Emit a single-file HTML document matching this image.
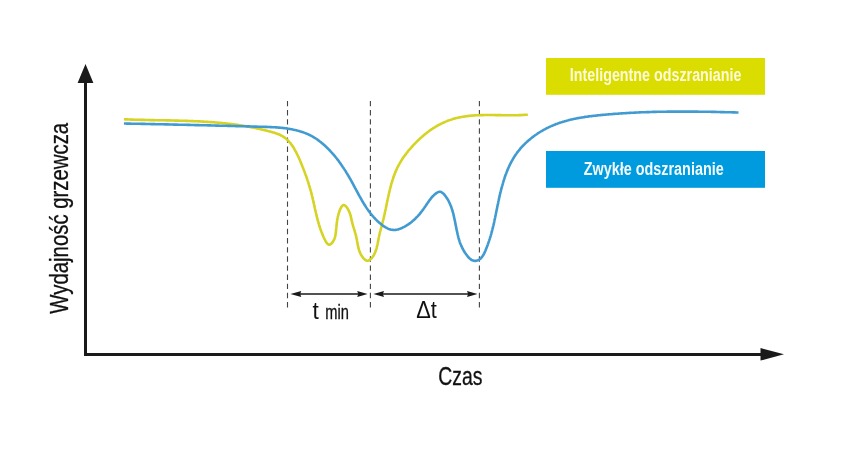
<!DOCTYPE html>
<html><head><meta charset="utf-8"><style>
html,body{margin:0;padding:0;background:#fff;}
body{width:844px;height:457px;overflow:hidden;}
svg{display:block;will-change:transform;}
text{font-family:"Liberation Sans",sans-serif;}
</style></head><body>
<svg width="844" height="457" viewBox="0 0 844 457">
<rect x="0" y="0" width="844" height="457" fill="#fff"/>
<!-- dashed lines -->
<g stroke="#444" stroke-width="1.1" stroke-dasharray="5.4 3.74">
<line x1="287.5" y1="100.9" x2="287.5" y2="308"/>
<line x1="370.4" y1="100.9" x2="370.4" y2="308"/>
<line x1="479.4" y1="100.9" x2="479.4" y2="308"/>
</g>
<!-- curves -->
<path d="M123.9,119.3 L124.6,119.3 L125.3,119.4 L126.0,119.4 L126.7,119.4 L127.4,119.4 L128.1,119.5 L128.8,119.5 L129.5,119.5 L130.2,119.5 L131.0,119.6 L131.7,119.6 L132.4,119.6 L133.1,119.6 L133.8,119.7 L134.5,119.7 L135.2,119.7 L135.9,119.7 L136.6,119.7 L137.3,119.8 L138.0,119.8 L138.7,119.8 L139.4,119.8 L140.1,119.8 L140.9,119.9 L141.6,119.9 L142.3,119.9 L143.0,119.9 L143.7,119.9 L144.4,119.9 L145.1,120.0 L145.8,120.0 L146.5,120.0 L147.2,120.0 L148.0,120.0 L148.7,120.0 L149.4,120.0 L150.1,120.1 L150.8,120.1 L151.5,120.1 L152.2,120.1 L152.9,120.1 L153.7,120.1 L154.4,120.1 L155.1,120.2 L155.8,120.2 L156.5,120.2 L157.2,120.2 L157.9,120.2 L158.6,120.2 L159.4,120.2 L160.1,120.3 L160.8,120.3 L161.5,120.3 L162.2,120.3 L162.9,120.3 L163.6,120.3 L164.3,120.3 L165.1,120.3 L165.8,120.4 L166.5,120.4 L167.2,120.4 L167.9,120.4 L168.6,120.4 L169.3,120.4 L170.1,120.4 L170.8,120.5 L171.5,120.5 L172.2,120.5 L172.9,120.5 L173.6,120.5 L174.3,120.5 L175.1,120.6 L175.8,120.6 L176.5,120.6 L177.2,120.6 L177.9,120.6 L178.6,120.6 L179.3,120.7 L180.1,120.7 L180.8,120.7 L181.5,120.7 L182.2,120.7 L182.9,120.8 L183.6,120.8 L184.3,120.8 L185.1,120.8 L185.8,120.9 L186.5,120.9 L187.2,120.9 L187.9,120.9 L188.6,121.0 L189.3,121.0 L190.1,121.0 L190.8,121.0 L191.5,121.1 L192.2,121.1 L192.9,121.1 L193.6,121.1 L194.3,121.2 L195.0,121.2 L195.8,121.2 L196.5,121.3 L197.2,121.3 L197.9,121.3 L198.6,121.4 L199.3,121.4 L200.0,121.4 L200.7,121.5 L201.5,121.5 L202.2,121.6 L202.9,121.6 L203.6,121.6 L204.3,121.7 L205.0,121.7 L205.7,121.8 L206.4,121.8 L207.1,121.9 L207.9,121.9 L208.6,122.0 L209.3,122.0 L210.0,122.0 L210.7,122.1 L211.4,122.1 L212.1,122.2 L212.8,122.3 L213.5,122.3 L214.2,122.4 L214.9,122.4 L215.6,122.5 L216.4,122.5 L217.1,122.6 L217.8,122.7 L218.5,122.7 L219.2,122.8 L219.9,122.8 L220.6,122.9 L221.3,123.0 L222.0,123.0 L222.7,123.1 L223.4,123.2 L224.1,123.3 L224.8,123.3 L225.5,123.4 L226.2,123.5 L226.9,123.6 L227.6,123.6 L228.3,123.7 L229.0,123.8 L229.7,123.9 L230.4,124.0 L231.1,124.1 L231.8,124.1 L232.5,124.2 L233.2,124.3 L233.9,124.4 L234.6,124.5 L235.3,124.6 L236.0,124.7 L236.7,124.8 L237.4,124.9 L238.1,125.0 L238.8,125.1 L239.5,125.2 L240.2,125.3 L240.9,125.4 L241.6,125.5 L242.3,125.6 L243.0,125.7 L243.7,125.9 L244.4,126.0 L245.1,126.1 L245.8,126.2 L246.5,126.3 L247.2,126.5 L247.9,126.6 L248.5,126.7 L249.2,126.8 L249.9,127.0 L250.6,127.1 L251.3,127.2 L252.0,127.4 L252.7,127.5 L253.4,127.6 L254.1,127.8 L254.8,127.9 L255.5,128.1 L256.2,128.2 L256.9,128.4 L257.6,128.5 L258.2,128.7 L258.9,128.8 L259.6,129.0 L260.3,129.1 L261.0,129.3 L261.7,129.5 L262.4,129.6 L263.1,129.8 L263.8,130.0 L264.5,130.1 L265.2,130.3 L265.9,130.5 L266.6,130.7 L267.3,130.8 L268.0,131.0 L268.8,131.2 L269.5,131.4 L270.2,131.6 L270.9,131.8 L271.6,132.0 L272.3,132.2 L273.0,132.4 L273.7,132.6 L274.4,132.8 L275.1,133.0 L275.8,133.3 L276.5,133.5 L277.2,133.7 L277.9,134.0 L278.5,134.3 L279.2,134.5 L279.9,134.8 L280.5,135.1 L281.1,135.5 L281.7,135.8 L282.4,136.1 L283.0,136.5 L283.5,136.9 L284.1,137.2 L284.7,137.6 L285.2,138.0 L285.8,138.5 L286.3,138.9 L286.8,139.4 L287.3,139.8 L287.8,140.3 L288.3,140.8 L288.8,141.3 L289.2,141.8 L289.7,142.3 L290.1,142.8 L290.6,143.4 L291.0,143.9 L291.4,144.5 L291.8,145.1 L292.2,145.6 L292.6,146.2 L293.0,146.8 L293.4,147.4 L293.8,148.0 L294.1,148.6 L294.5,149.2 L294.8,149.8 L295.2,150.5 L295.5,151.1 L295.9,151.7 L296.2,152.4 L296.5,153.0 L296.8,153.7 L297.2,154.3 L297.5,155.0 L297.8,155.6 L298.1,156.3 L298.4,156.9 L298.7,157.6 L299.0,158.3 L299.3,158.9 L299.6,159.6 L299.9,160.3 L300.2,160.9 L300.4,161.6 L300.7,162.3 L301.0,162.9 L301.3,163.6 L301.6,164.2 L301.8,164.9 L302.1,165.6 L302.4,166.2 L302.6,166.9 L302.9,167.6 L303.2,168.2 L303.4,168.9 L303.7,169.6 L303.9,170.2 L304.2,170.9 L304.5,171.6 L304.7,172.2 L305.0,172.9 L305.2,173.6 L305.4,174.2 L305.7,174.9 L305.9,175.6 L306.2,176.2 L306.4,176.9 L306.6,177.6 L306.9,178.2 L307.1,178.9 L307.3,179.6 L307.5,180.2 L307.8,180.9 L308.0,181.6 L308.2,182.2 L308.4,182.9 L308.6,183.6 L308.8,184.3 L309.0,184.9 L309.2,185.6 L309.4,186.3 L309.6,187.0 L309.8,187.6 L310.0,188.3 L310.2,189.0 L310.4,189.7 L310.6,190.4 L310.8,191.0 L311.0,191.7 L311.2,192.4 L311.3,193.1 L311.5,193.8 L311.7,194.5 L311.9,195.1 L312.0,195.8 L312.2,196.5 L312.4,197.2 L312.5,197.9 L312.7,198.6 L312.9,199.3 L313.0,200.0 L313.2,200.7 L313.3,201.4 L313.5,202.1 L313.6,202.7 L313.8,203.4 L314.0,204.1 L314.1,204.8 L314.3,205.5 L314.4,206.2 L314.6,206.9 L314.7,207.6 L314.9,208.3 L315.0,209.0 L315.2,209.7 L315.3,210.4 L315.5,211.1 L315.7,211.8 L315.8,212.5 L316.0,213.2 L316.2,213.9 L316.3,214.6 L316.5,215.3 L316.7,216.0 L316.8,216.7 L317.0,217.4 L317.2,218.0 L317.3,218.7 L317.5,219.4 L317.7,220.1 L317.9,220.8 L318.1,221.5 L318.3,222.2 L318.5,222.9 L318.7,223.6 L318.9,224.3 L319.1,224.9 L319.3,225.6 L319.5,226.3 L319.7,227.0 L320.0,227.7 L320.2,228.4 L320.4,229.0 L320.7,229.7 L320.9,230.4 L321.1,231.1 L321.4,231.8 L321.7,232.4 L321.9,233.1 L322.2,233.8 L322.5,234.5 L322.7,235.1 L323.0,235.8 L323.3,236.5 L323.6,237.1 L323.9,237.8 L324.2,238.4 L324.6,239.1 L324.9,239.8 L325.2,240.4 L325.6,241.1 L325.9,241.7 L326.3,242.3 L326.6,242.8 L327.0,243.3 L327.4,243.7 L327.8,244.1 L328.2,244.4 L328.7,244.6 L329.1,244.6 L329.6,244.6 L330.1,244.5 L330.6,244.2 L331.1,243.9 L331.6,243.4 L332.1,242.8 L332.6,242.2 L333.0,241.5 L333.5,240.8 L333.8,240.1 L334.2,239.4 L334.5,238.6 L334.7,237.9 L335.0,237.1 L335.2,236.4 L335.3,235.6 L335.5,234.9 L335.6,234.2 L335.7,233.4 L335.8,232.7 L335.9,232.0 L336.0,231.3 L336.0,230.5 L336.1,229.8 L336.2,229.1 L336.2,228.4 L336.3,227.8 L336.4,227.1 L336.4,226.4 L336.5,225.7 L336.6,225.0 L336.7,224.3 L336.7,223.7 L336.8,223.0 L336.9,222.3 L337.0,221.6 L337.1,220.9 L337.2,220.3 L337.3,219.6 L337.4,218.9 L337.5,218.2 L337.7,217.5 L337.8,216.8 L338.0,216.1 L338.2,215.3 L338.4,214.6 L338.6,213.9 L338.8,213.1 L339.1,212.4 L339.3,211.6 L339.6,210.8 L339.9,210.1 L340.2,209.3 L340.5,208.5 L340.9,207.8 L341.2,207.2 L341.6,206.6 L342.0,206.1 L342.4,205.7 L342.9,205.3 L343.3,205.1 L343.8,205.1 L344.2,205.2 L344.7,205.4 L345.2,205.7 L345.7,206.1 L346.1,206.6 L346.6,207.1 L347.1,207.7 L347.5,208.4 L347.9,209.1 L348.3,209.8 L348.7,210.5 L349.0,211.2 L349.3,211.9 L349.6,212.6 L349.8,213.3 L350.1,214.0 L350.3,214.7 L350.5,215.4 L350.7,216.2 L350.9,216.9 L351.0,217.6 L351.2,218.3 L351.4,219.0 L351.5,219.7 L351.7,220.4 L351.8,221.1 L352.0,221.8 L352.2,222.5 L352.3,223.2 L352.5,223.8 L352.7,224.5 L352.9,225.2 L353.1,225.9 L353.3,226.5 L353.5,227.2 L353.7,227.8 L353.9,228.5 L354.1,229.2 L354.3,229.8 L354.5,230.5 L354.7,231.1 L354.9,231.8 L355.1,232.5 L355.3,233.2 L355.5,233.8 L355.7,234.5 L355.9,235.2 L356.0,235.9 L356.2,236.6 L356.3,237.3 L356.5,238.0 L356.6,238.7 L356.8,239.4 L356.9,240.1 L357.0,240.8 L357.2,241.5 L357.3,242.3 L357.4,243.0 L357.5,243.7 L357.7,244.4 L357.8,245.2 L358.0,245.9 L358.1,246.6 L358.3,247.3 L358.5,248.0 L358.6,248.7 L358.8,249.4 L359.1,250.1 L359.3,250.8 L359.5,251.5 L359.8,252.2 L360.1,252.8 L360.4,253.5 L360.7,254.1 L361.0,254.8 L361.4,255.4 L361.8,256.0 L362.2,256.6 L362.6,257.2 L363.1,257.8 L363.6,258.4 L364.1,258.9 L364.6,259.4 L365.2,259.8 L365.7,260.2 L366.3,260.5 L366.9,260.7 L367.4,260.7 L368.0,260.7 L368.6,260.6 L369.1,260.3 L369.7,260.0 L370.2,259.6 L370.7,259.1 L371.2,258.6 L371.7,258.1 L372.2,257.5 L372.6,257.0 L373.0,256.4 L373.4,255.8 L373.8,255.2 L374.1,254.5 L374.4,253.9 L374.7,253.3 L375.0,252.6 L375.3,252.0 L375.6,251.3 L375.8,250.6 L376.0,249.9 L376.3,249.2 L376.5,248.5 L376.7,247.8 L376.8,247.1 L377.0,246.4 L377.2,245.7 L377.4,245.0 L377.5,244.3 L377.7,243.5 L377.8,242.8 L377.9,242.1 L378.1,241.4 L378.2,240.6 L378.4,239.9 L378.5,239.2 L378.6,238.5 L378.8,237.8 L378.9,237.0 L379.1,236.3 L379.2,235.6 L379.4,234.9 L379.5,234.2 L379.7,233.5 L379.8,232.8 L380.0,232.2 L380.2,231.5 L380.4,230.8 L380.5,230.1 L380.7,229.4 L380.9,228.8 L381.1,228.1 L381.2,227.4 L381.4,226.8 L381.6,226.1 L381.8,225.4 L382.0,224.7 L382.1,224.1 L382.3,223.4 L382.5,222.7 L382.7,222.1 L382.8,221.4 L383.0,220.7 L383.2,220.0 L383.4,219.3 L383.5,218.7 L383.7,218.0 L383.8,217.3 L384.0,216.6 L384.2,215.9 L384.3,215.2 L384.5,214.5 L384.6,213.8 L384.8,213.2 L384.9,212.5 L385.1,211.8 L385.2,211.1 L385.4,210.4 L385.5,209.7 L385.7,209.0 L385.8,208.3 L386.0,207.6 L386.1,206.9 L386.3,206.2 L386.4,205.5 L386.5,204.8 L386.7,204.0 L386.8,203.3 L387.0,202.6 L387.1,201.9 L387.3,201.2 L387.4,200.5 L387.6,199.8 L387.7,199.1 L387.9,198.4 L388.0,197.7 L388.2,197.0 L388.3,196.3 L388.5,195.6 L388.6,194.9 L388.8,194.2 L389.0,193.5 L389.1,192.8 L389.3,192.1 L389.5,191.4 L389.6,190.7 L389.8,190.0 L390.0,189.3 L390.1,188.6 L390.3,187.9 L390.5,187.2 L390.7,186.5 L390.9,185.8 L391.1,185.1 L391.2,184.4 L391.4,183.7 L391.6,183.1 L391.8,182.4 L392.0,181.7 L392.3,181.0 L392.5,180.3 L392.7,179.7 L392.9,179.0 L393.1,178.3 L393.4,177.6 L393.6,177.0 L393.8,176.3 L394.1,175.6 L394.3,175.0 L394.6,174.3 L394.8,173.7 L395.1,173.0 L395.3,172.3 L395.6,171.7 L395.9,171.0 L396.2,170.4 L396.4,169.8 L396.7,169.1 L397.0,168.5 L397.3,167.8 L397.6,167.2 L397.9,166.6 L398.3,166.0 L398.6,165.3 L398.9,164.7 L399.3,164.1 L399.6,163.5 L399.9,162.9 L400.3,162.3 L400.7,161.7 L401.0,161.1 L401.4,160.5 L401.8,159.9 L402.2,159.3 L402.5,158.7 L402.9,158.1 L403.3,157.6 L403.7,157.0 L404.1,156.4 L404.5,155.8 L405.0,155.3 L405.4,154.7 L405.8,154.1 L406.2,153.6 L406.7,153.0 L407.1,152.5 L407.6,151.9 L408.0,151.3 L408.4,150.8 L408.9,150.2 L409.4,149.7 L409.8,149.2 L410.3,148.6 L410.8,148.1 L411.2,147.5 L411.7,147.0 L412.2,146.5 L412.7,145.9 L413.1,145.4 L413.6,144.9 L414.1,144.4 L414.6,143.8 L415.1,143.3 L415.6,142.8 L416.1,142.3 L416.6,141.8 L417.1,141.3 L417.6,140.8 L418.2,140.3 L418.7,139.8 L419.2,139.3 L419.7,138.8 L420.3,138.3 L420.8,137.8 L421.3,137.4 L421.9,136.9 L422.4,136.4 L423.0,135.9 L423.5,135.5 L424.1,135.0 L424.6,134.6 L425.2,134.1 L425.7,133.7 L426.3,133.2 L426.9,132.8 L427.4,132.3 L428.0,131.9 L428.6,131.5 L429.1,131.1 L429.7,130.6 L430.3,130.2 L430.9,129.8 L431.5,129.4 L432.1,129.0 L432.7,128.6 L433.3,128.2 L433.9,127.9 L434.5,127.5 L435.1,127.1 L435.7,126.7 L436.3,126.4 L436.9,126.0 L437.5,125.7 L438.1,125.3 L438.7,125.0 L439.4,124.7 L440.0,124.3 L440.6,124.0 L441.2,123.7 L441.9,123.4 L442.5,123.1 L443.1,122.8 L443.8,122.5 L444.4,122.2 L445.1,121.9 L445.7,121.6 L446.3,121.4 L447.0,121.1 L447.6,120.8 L448.3,120.6 L449.0,120.4 L449.6,120.1 L450.3,119.9 L450.9,119.7 L451.6,119.4 L452.3,119.2 L452.9,119.0 L453.6,118.8 L454.3,118.6 L455.0,118.5 L455.6,118.3 L456.3,118.1 L457.0,117.9 L457.7,117.8 L458.4,117.6 L459.0,117.5 L459.7,117.3 L460.4,117.2 L461.1,117.1 L461.8,116.9 L462.5,116.8 L463.2,116.7 L463.9,116.6 L464.6,116.5 L465.3,116.4 L466.0,116.3 L466.7,116.2 L467.4,116.1 L468.1,116.0 L468.8,115.9 L469.5,115.9 L470.2,115.8 L470.9,115.7 L471.6,115.6 L472.3,115.6 L473.0,115.5 L473.8,115.5 L474.5,115.4 L475.2,115.4 L475.9,115.3 L476.6,115.3 L477.3,115.3 L478.0,115.2 L478.8,115.2 L479.5,115.2 L480.2,115.1 L480.9,115.1 L481.6,115.1 L482.4,115.1 L483.1,115.1 L483.8,115.0 L484.5,115.0 L485.2,115.0 L486.0,115.0 L486.7,115.0 L487.4,115.0 L488.1,115.0 L488.9,115.0 L489.6,115.0 L490.3,115.0 L491.0,115.0 L491.8,115.0 L492.5,115.0 L493.2,115.0 L493.9,115.0 L494.7,115.0 L495.4,115.1 L496.1,115.1 L496.8,115.1 L497.5,115.1 L498.3,115.1 L499.0,115.1 L499.7,115.1 L500.4,115.1 L501.2,115.1 L501.9,115.2 L502.6,115.2 L503.3,115.2 L504.0,115.2 L504.7,115.2 L505.5,115.2 L506.2,115.2 L506.9,115.2 L507.6,115.2 L508.3,115.2 L509.0,115.2 L509.8,115.3 L510.5,115.3 L511.2,115.3 L511.9,115.3 L512.6,115.3 L513.3,115.2 L514.0,115.2 L514.7,115.2 L515.4,115.2 L516.1,115.2 L516.8,115.2 L517.5,115.2 L518.2,115.2 L518.9,115.1 L519.6,115.1 L520.3,115.1 L521.0,115.1 L521.7,115.0 L522.4,115.0 L523.1,115.0 L523.8,114.9 L524.4,114.9 L525.1,114.8 L525.8,114.8 L526.5,114.7 L527.2,114.7 L527.8,114.6" fill="none" stroke="#d5d324" stroke-width="2.6" stroke-linecap="butt"/>
<path d="M123.9,123.5 L124.8,123.5 L125.7,123.5 L126.6,123.6 L127.5,123.6 L128.4,123.6 L129.3,123.6 L130.3,123.6 L131.2,123.7 L132.1,123.7 L133.0,123.7 L133.9,123.7 L134.8,123.7 L135.7,123.7 L136.6,123.8 L137.5,123.8 L138.4,123.8 L139.4,123.8 L140.3,123.8 L141.2,123.9 L142.1,123.9 L143.0,123.9 L143.9,123.9 L144.8,123.9 L145.7,124.0 L146.6,124.0 L147.5,124.0 L148.4,124.0 L149.3,124.0 L150.2,124.0 L151.1,124.1 L152.0,124.1 L152.9,124.1 L153.8,124.1 L154.7,124.1 L155.6,124.2 L156.5,124.2 L157.4,124.2 L158.3,124.2 L159.3,124.2 L160.2,124.3 L161.1,124.3 L162.0,124.3 L162.9,124.3 L163.8,124.3 L164.7,124.4 L165.6,124.4 L166.5,124.4 L167.4,124.4 L168.3,124.4 L169.2,124.5 L170.1,124.5 L171.0,124.5 L171.9,124.5 L172.8,124.5 L173.7,124.6 L174.6,124.6 L175.5,124.6 L176.4,124.6 L177.3,124.6 L178.2,124.7 L179.0,124.7 L179.9,124.7 L180.8,124.7 L181.7,124.7 L182.6,124.8 L183.5,124.8 L184.4,124.8 L185.3,124.8 L186.2,124.8 L187.1,124.9 L188.0,124.9 L188.9,124.9 L189.8,124.9 L190.7,125.0 L191.6,125.0 L192.5,125.0 L193.4,125.0 L194.3,125.0 L195.2,125.1 L196.1,125.1 L197.0,125.1 L197.9,125.1 L198.8,125.1 L199.7,125.2 L200.6,125.2 L201.5,125.2 L202.4,125.2 L203.3,125.3 L204.2,125.3 L205.1,125.3 L206.0,125.3 L206.9,125.3 L207.8,125.4 L208.7,125.4 L209.6,125.4 L210.5,125.4 L211.4,125.5 L212.3,125.5 L213.2,125.5 L214.1,125.5 L215.0,125.5 L215.9,125.6 L216.8,125.6 L217.7,125.6 L218.6,125.6 L219.5,125.7 L220.4,125.7 L221.3,125.7 L222.2,125.7 L223.1,125.7 L224.0,125.8 L224.9,125.8 L225.8,125.8 L226.7,125.8 L227.6,125.9 L228.5,125.9 L229.4,125.9 L230.3,125.9 L231.2,126.0 L232.1,126.0 L233.0,126.0 L233.9,126.0 L234.8,126.0 L235.7,126.1 L236.7,126.1 L237.6,126.1 L238.5,126.1 L239.4,126.2 L240.3,126.2 L241.2,126.2 L242.1,126.2 L243.0,126.3 L243.9,126.3 L244.8,126.3 L245.7,126.3 L246.6,126.4 L247.5,126.4 L248.5,126.4 L249.4,126.4 L250.3,126.5 L251.2,126.5 L252.1,126.5 L253.0,126.5 L253.9,126.6 L254.8,126.6 L255.7,126.6 L256.7,126.6 L257.6,126.7 L258.5,126.7 L259.4,126.7 L260.3,126.7 L261.2,126.8 L262.1,126.8 L263.1,126.8 L264.0,126.8 L264.9,126.9 L265.8,126.9 L266.7,126.9 L267.6,127.0 L268.6,127.0 L269.5,127.0 L270.4,127.1 L271.3,127.1 L272.2,127.2 L273.1,127.2 L274.0,127.3 L274.9,127.3 L275.9,127.4 L276.8,127.4 L277.7,127.5 L278.6,127.6 L279.5,127.6 L280.4,127.7 L281.3,127.8 L282.2,127.9 L283.1,128.0 L284.0,128.1 L284.9,128.2 L285.8,128.3 L286.7,128.4 L287.5,128.6 L288.4,128.7 L289.3,128.9 L290.2,129.0 L291.1,129.2 L292.0,129.3 L292.8,129.5 L293.7,129.7 L294.6,129.9 L295.4,130.1 L296.3,130.3 L297.1,130.5 L298.0,130.7 L298.9,130.9 L299.7,131.2 L300.5,131.4 L301.4,131.7 L302.2,132.0 L303.1,132.3 L303.9,132.6 L304.7,132.9 L305.5,133.2 L306.4,133.5 L307.2,133.9 L308.0,134.2 L308.8,134.6 L309.6,135.0 L310.4,135.4 L311.2,135.8 L311.9,136.2 L312.7,136.6 L313.5,137.1 L314.3,137.6 L315.0,138.0 L315.8,138.5 L316.6,139.0 L317.3,139.5 L318.0,140.1 L318.8,140.6 L319.5,141.2 L320.2,141.7 L321.0,142.3 L321.7,142.9 L322.4,143.5 L323.1,144.1 L323.8,144.7 L324.5,145.3 L325.2,145.9 L325.8,146.6 L326.5,147.2 L327.2,147.9 L327.8,148.5 L328.5,149.2 L329.1,149.8 L329.8,150.5 L330.4,151.2 L331.0,151.8 L331.6,152.5 L332.2,153.2 L332.8,153.9 L333.4,154.5 L334.0,155.2 L334.6,155.9 L335.2,156.6 L335.7,157.3 L336.3,158.0 L336.9,158.7 L337.4,159.4 L338.0,160.1 L338.5,160.8 L339.0,161.6 L339.6,162.3 L340.1,163.0 L340.6,163.7 L341.1,164.5 L341.6,165.2 L342.1,165.9 L342.6,166.7 L343.1,167.4 L343.6,168.1 L344.1,168.9 L344.6,169.6 L345.1,170.4 L345.6,171.1 L346.0,171.9 L346.5,172.7 L347.0,173.4 L347.4,174.2 L347.9,175.0 L348.3,175.7 L348.8,176.5 L349.2,177.3 L349.7,178.1 L350.1,178.8 L350.6,179.6 L351.0,180.4 L351.5,181.2 L351.9,182.0 L352.3,182.8 L352.8,183.6 L353.2,184.4 L353.6,185.2 L354.0,186.0 L354.5,186.8 L354.9,187.6 L355.3,188.4 L355.8,189.2 L356.2,190.0 L356.6,190.8 L357.1,191.6 L357.5,192.4 L357.9,193.2 L358.3,194.0 L358.8,194.8 L359.2,195.6 L359.7,196.4 L360.1,197.2 L360.6,198.0 L361.0,198.8 L361.5,199.6 L361.9,200.4 L362.4,201.2 L362.8,202.0 L363.3,202.8 L363.8,203.5 L364.2,204.3 L364.7,205.1 L365.2,205.8 L365.7,206.6 L366.2,207.4 L366.7,208.1 L367.2,208.9 L367.7,209.6 L368.2,210.3 L368.8,211.1 L369.3,211.8 L369.8,212.5 L370.4,213.2 L370.9,213.9 L371.5,214.6 L372.1,215.3 L372.7,216.0 L373.3,216.7 L373.8,217.3 L374.5,218.0 L375.1,218.7 L375.7,219.3 L376.3,219.9 L377.0,220.6 L377.6,221.2 L378.3,221.8 L379.0,222.4 L379.7,223.0 L380.3,223.6 L381.1,224.1 L381.8,224.7 L382.5,225.3 L383.2,225.8 L384.0,226.3 L384.8,226.8 L385.5,227.3 L386.3,227.7 L387.1,228.2 L387.9,228.6 L388.7,228.9 L389.6,229.2 L390.4,229.5 L391.2,229.7 L392.1,229.8 L393.0,229.9 L393.8,230.0 L394.7,230.0 L395.6,229.9 L396.5,229.8 L397.4,229.6 L398.2,229.4 L399.1,229.1 L400.0,228.8 L400.9,228.4 L401.8,228.1 L402.6,227.7 L403.5,227.2 L404.3,226.8 L405.1,226.3 L405.9,225.9 L406.7,225.4 L407.5,224.9 L408.3,224.4 L409.0,223.9 L409.7,223.3 L410.5,222.8 L411.2,222.3 L411.9,221.7 L412.6,221.1 L413.2,220.6 L413.9,220.0 L414.5,219.4 L415.2,218.8 L415.8,218.2 L416.4,217.5 L417.0,216.9 L417.6,216.3 L418.2,215.6 L418.8,215.0 L419.4,214.3 L420.0,213.6 L420.5,212.9 L421.1,212.2 L421.6,211.5 L422.2,210.8 L422.7,210.1 L423.3,209.3 L423.8,208.6 L424.3,207.9 L424.8,207.1 L425.4,206.3 L425.9,205.6 L426.4,204.8 L426.9,204.0 L427.4,203.2 L428.0,202.5 L428.5,201.7 L429.0,200.9 L429.6,200.2 L430.2,199.4 L430.7,198.7 L431.3,197.9 L431.9,197.2 L432.6,196.5 L433.2,195.9 L433.9,195.2 L434.6,194.6 L435.3,194.0 L436.0,193.4 L436.8,192.9 L437.6,192.4 L438.3,192.1 L439.1,191.8 L439.9,191.8 L440.6,191.8 L441.3,192.1 L442.0,192.5 L442.6,193.0 L443.3,193.5 L443.9,194.2 L444.5,194.9 L445.0,195.5 L445.6,196.3 L446.1,197.0 L446.6,197.7 L447.1,198.4 L447.6,199.2 L448.0,200.0 L448.4,200.7 L448.9,201.5 L449.2,202.3 L449.6,203.1 L450.0,203.9 L450.3,204.7 L450.7,205.6 L451.0,206.4 L451.3,207.3 L451.6,208.1 L451.9,209.0 L452.2,209.8 L452.4,210.7 L452.7,211.6 L452.9,212.5 L453.2,213.3 L453.4,214.2 L453.6,215.1 L453.8,216.0 L454.0,216.9 L454.2,217.8 L454.4,218.7 L454.6,219.6 L454.8,220.5 L455.0,221.4 L455.2,222.4 L455.3,223.3 L455.5,224.2 L455.7,225.1 L455.9,226.0 L456.1,226.9 L456.2,227.8 L456.4,228.7 L456.6,229.6 L456.8,230.5 L457.0,231.4 L457.2,232.3 L457.4,233.2 L457.6,234.1 L457.8,235.0 L458.0,235.8 L458.2,236.7 L458.4,237.6 L458.7,238.4 L458.9,239.3 L459.2,240.1 L459.5,241.0 L459.7,241.8 L460.0,242.7 L460.3,243.5 L460.7,244.3 L461.0,245.1 L461.3,245.9 L461.7,246.7 L462.1,247.5 L462.5,248.3 L462.9,249.1 L463.3,249.9 L463.8,250.7 L464.2,251.5 L464.7,252.2 L465.2,253.0 L465.8,253.8 L466.3,254.5 L466.9,255.3 L467.5,256.1 L468.1,256.8 L468.7,257.5 L469.4,258.2 L470.1,258.8 L470.8,259.4 L471.6,259.9 L472.3,260.3 L473.1,260.6 L473.9,260.8 L474.7,260.9 L475.5,260.9 L476.3,260.8 L477.1,260.6 L477.9,260.3 L478.6,260.0 L479.4,259.5 L480.0,259.1 L480.6,258.5 L481.2,257.9 L481.8,257.2 L482.3,256.5 L482.8,255.8 L483.3,255.0 L483.8,254.2 L484.2,253.4 L484.6,252.5 L485.0,251.6 L485.4,250.8 L485.8,249.9 L486.1,249.0 L486.5,248.1 L486.8,247.2 L487.2,246.3 L487.5,245.4 L487.8,244.6 L488.1,243.7 L488.4,242.8 L488.7,241.9 L489.0,241.1 L489.3,240.2 L489.6,239.3 L489.9,238.4 L490.1,237.6 L490.4,236.7 L490.7,235.8 L490.9,235.0 L491.2,234.1 L491.4,233.2 L491.6,232.4 L491.9,231.5 L492.1,230.6 L492.3,229.8 L492.5,228.9 L492.7,228.1 L493.0,227.2 L493.2,226.3 L493.4,225.5 L493.6,224.6 L493.8,223.7 L494.0,222.9 L494.2,222.0 L494.3,221.1 L494.5,220.3 L494.7,219.4 L494.9,218.5 L495.1,217.7 L495.3,216.8 L495.4,215.9 L495.6,215.1 L495.8,214.2 L496.0,213.3 L496.2,212.4 L496.3,211.6 L496.5,210.7 L496.7,209.8 L496.9,208.9 L497.1,208.1 L497.2,207.2 L497.4,206.3 L497.6,205.4 L497.8,204.5 L498.0,203.6 L498.2,202.7 L498.3,201.8 L498.5,201.0 L498.7,200.1 L498.9,199.2 L499.1,198.3 L499.3,197.4 L499.5,196.5 L499.7,195.6 L499.9,194.7 L500.1,193.8 L500.3,192.9 L500.6,192.0 L500.8,191.2 L501.0,190.3 L501.2,189.4 L501.5,188.5 L501.7,187.6 L501.9,186.7 L502.2,185.8 L502.4,185.0 L502.7,184.1 L502.9,183.2 L503.2,182.3 L503.4,181.5 L503.7,180.6 L504.0,179.7 L504.3,178.9 L504.5,178.0 L504.8,177.1 L505.1,176.3 L505.4,175.4 L505.7,174.6 L506.1,173.7 L506.4,172.9 L506.7,172.0 L507.0,171.2 L507.4,170.4 L507.7,169.5 L508.1,168.7 L508.4,167.9 L508.8,167.0 L509.2,166.2 L509.6,165.4 L510.0,164.6 L510.3,163.8 L510.8,163.0 L511.2,162.2 L511.6,161.4 L512.0,160.7 L512.5,159.9 L512.9,159.1 L513.4,158.3 L513.8,157.6 L514.3,156.8 L514.8,156.1 L515.3,155.3 L515.8,154.6 L516.3,153.9 L516.8,153.1 L517.3,152.4 L517.9,151.7 L518.4,151.0 L519.0,150.3 L519.6,149.6 L520.1,148.9 L520.7,148.2 L521.3,147.5 L521.9,146.9 L522.5,146.2 L523.2,145.6 L523.8,144.9 L524.4,144.3 L525.1,143.6 L525.7,143.0 L526.4,142.4 L527.0,141.8 L527.7,141.2 L528.4,140.6 L529.1,140.0 L529.8,139.4 L530.5,138.8 L531.2,138.3 L531.9,137.7 L532.6,137.1 L533.3,136.6 L534.1,136.0 L534.8,135.5 L535.5,135.0 L536.3,134.5 L537.0,134.0 L537.8,133.4 L538.6,133.0 L539.3,132.5 L540.1,132.0 L540.9,131.5 L541.7,131.0 L542.4,130.6 L543.2,130.1 L544.0,129.7 L544.8,129.3 L545.6,128.8 L546.4,128.4 L547.2,128.0 L548.1,127.6 L548.9,127.2 L549.7,126.8 L550.5,126.4 L551.3,126.1 L552.2,125.7 L553.0,125.4 L553.8,125.0 L554.7,124.7 L555.5,124.3 L556.3,124.0 L557.2,123.7 L558.0,123.4 L558.9,123.1 L559.7,122.8 L560.6,122.5 L561.4,122.3 L562.3,122.0 L563.1,121.7 L564.0,121.5 L564.9,121.2 L565.7,121.0 L566.6,120.7 L567.5,120.5 L568.3,120.3 L569.2,120.0 L570.1,119.8 L570.9,119.6 L571.8,119.4 L572.7,119.2 L573.6,119.0 L574.5,118.8 L575.3,118.7 L576.2,118.5 L577.1,118.3 L578.0,118.1 L578.9,118.0 L579.8,117.8 L580.7,117.7 L581.5,117.5 L582.4,117.4 L583.3,117.2 L584.2,117.1 L585.1,116.9 L586.0,116.8 L586.9,116.7 L587.8,116.6 L588.7,116.4 L589.6,116.3 L590.5,116.2 L591.4,116.1 L592.3,116.0 L593.2,115.9 L594.1,115.8 L595.0,115.7 L595.9,115.6 L596.8,115.5 L597.7,115.4 L598.6,115.3 L599.5,115.2 L600.4,115.1 L601.3,115.0 L602.2,114.9 L603.1,114.9 L604.0,114.8 L604.9,114.7 L605.8,114.6 L606.7,114.5 L607.6,114.5 L608.5,114.4 L609.4,114.3 L610.3,114.2 L611.2,114.2 L612.1,114.1 L613.0,114.0 L613.9,113.9 L614.8,113.9 L615.7,113.8 L616.6,113.7 L617.5,113.7 L618.4,113.6 L619.3,113.5 L620.3,113.5 L621.2,113.4 L622.1,113.4 L623.0,113.3 L623.9,113.2 L624.8,113.2 L625.7,113.1 L626.6,113.1 L627.5,113.0 L628.4,113.0 L629.3,112.9 L630.2,112.9 L631.1,112.8 L632.0,112.8 L632.9,112.7 L633.8,112.7 L634.7,112.6 L635.6,112.6 L636.5,112.5 L637.4,112.5 L638.3,112.5 L639.2,112.4 L640.1,112.4 L641.0,112.3 L641.9,112.3 L642.8,112.3 L643.7,112.2 L644.6,112.2 L645.5,112.2 L646.4,112.1 L647.3,112.1 L648.2,112.1 L649.1,112.1 L650.0,112.0 L650.9,112.0 L651.8,112.0 L652.7,111.9 L653.6,111.9 L654.5,111.9 L655.4,111.9 L656.3,111.9 L657.2,111.8 L658.1,111.8 L659.0,111.8 L659.9,111.8 L660.8,111.8 L661.7,111.7 L662.6,111.7 L663.6,111.7 L664.5,111.7 L665.4,111.7 L666.3,111.7 L667.2,111.6 L668.1,111.6 L669.0,111.6 L669.9,111.6 L670.8,111.6 L671.7,111.6 L672.6,111.6 L673.5,111.6 L674.4,111.6 L675.3,111.6 L676.2,111.6 L677.1,111.6 L678.0,111.6 L678.9,111.6 L679.8,111.6 L680.7,111.6 L681.6,111.6 L682.5,111.6 L683.4,111.6 L684.3,111.6 L685.2,111.6 L686.1,111.6 L687.0,111.6 L687.9,111.6 L688.8,111.6 L689.7,111.6 L690.6,111.6 L691.5,111.6 L692.4,111.6 L693.3,111.6 L694.2,111.6 L695.1,111.6 L696.0,111.6 L696.9,111.6 L697.8,111.6 L698.7,111.7 L699.7,111.7 L700.6,111.7 L701.5,111.7 L702.4,111.7 L703.3,111.7 L704.2,111.7 L705.1,111.7 L706.0,111.8 L706.9,111.8 L707.8,111.8 L708.7,111.8 L709.6,111.8 L710.5,111.8 L711.4,111.9 L712.3,111.9 L713.2,111.9 L714.1,111.9 L715.0,111.9 L715.9,111.9 L716.8,112.0 L717.7,112.0 L718.6,112.0 L719.5,112.0 L720.4,112.1 L721.3,112.1 L722.2,112.1 L723.1,112.1 L724.0,112.1 L724.9,112.2 L725.9,112.2 L726.8,112.2 L727.7,112.2 L728.6,112.3 L729.5,112.3 L730.4,112.3 L731.3,112.3 L732.2,112.4 L733.1,112.4 L734.0,112.4 L734.9,112.4 L735.8,112.5 L736.7,112.5 L737.6,112.5 L738.5,112.5" fill="none" stroke="#429bd0" stroke-width="2.6" stroke-linecap="butt"/>
<!-- axes -->
<g fill="#1a1a1a">
<rect x="84" y="80" width="3" height="276"/>
<rect x="84" y="353" width="680" height="3"/>
<polygon points="85.5,64 77.6,83 93.4,83"/>
<polygon points="784,354.3 760.5,348 760.5,360.6"/>
</g>
<!-- measurement arrows -->
<g stroke="#1a1a1a" stroke-width="1.7">
<line x1="298" y1="294" x2="361" y2="294"/>
<line x1="381" y1="294" x2="470" y2="294"/>
</g>
<g fill="#1a1a1a">
<polygon points="290.4,294 301.3,290.9 300.2,294 301.3,297.1"/>
<polygon points="367.6,294 357.2,290.9 358.3,294 357.2,297.1"/>
<polygon points="373.4,294 384.0,290.9 382.9,294 384.0,297.1"/>
<polygon points="477.5,294 467.0,290.9 468.1,294 467.0,297.1"/>
</g>
<!-- boxes -->
<rect x="546" y="58" width="219" height="36.8" fill="#dbdc00"/>
<rect x="546" y="151" width="219" height="36.8" fill="#009bde"/>
<text x="569.8" y="80.8" font-size="19.2" font-weight="bold" fill="#fdfbd8" textLength="171.6" lengthAdjust="spacingAndGlyphs">Inteligentne odszranianie</text>
<text x="583.8" y="175.2" font-size="19.2" font-weight="bold" fill="#f4fbff" textLength="139.9" lengthAdjust="spacingAndGlyphs">Zwykłe odszranianie</text>
<!-- labels -->
<text x="438.2" y="385" font-size="25" fill="#111" stroke="#111" stroke-width="0.3" textLength="44.2" lengthAdjust="spacingAndGlyphs">Czas</text>
<text x="312.6" y="318.6" font-size="24" fill="#111" textLength="6.3" lengthAdjust="spacingAndGlyphs">t</text>
<text x="325.3" y="318.6" font-size="19.3" fill="#111" stroke="#111" stroke-width="0.3" textLength="23.6" lengthAdjust="spacingAndGlyphs">min</text>
<text x="416.2" y="318.3" font-size="24.5" fill="#111" textLength="20.6" lengthAdjust="spacingAndGlyphs">Δt</text>
<text transform="translate(68.4,313.8) rotate(-90)" x="0" y="0" font-size="25.5" fill="#111" stroke="#111" stroke-width="0.3" textLength="191" lengthAdjust="spacingAndGlyphs">Wydajność grzewcza</text>
</svg>
</body></html>
